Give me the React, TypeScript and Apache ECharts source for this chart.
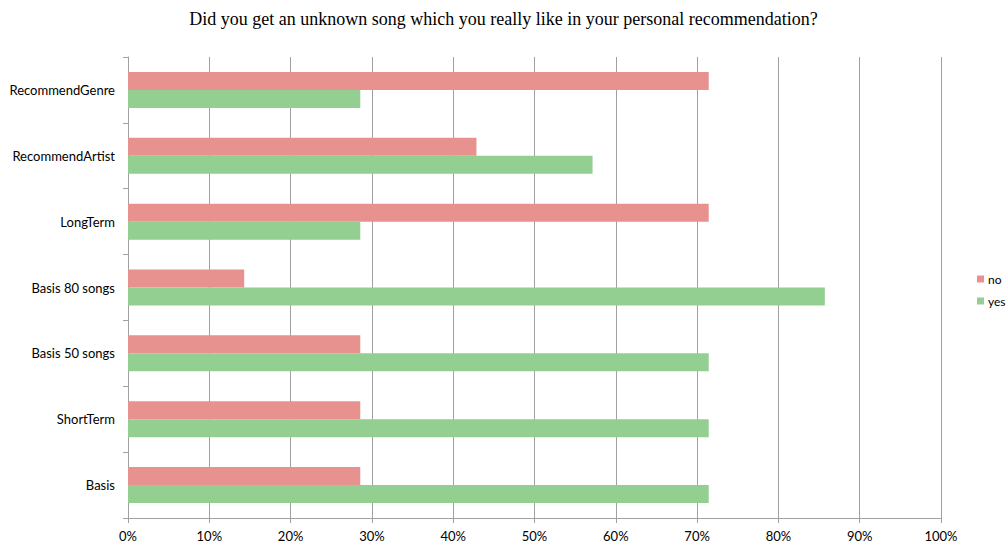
import React, { useEffect, useRef } from "react";
import * as echarts from "echarts";

const categories = ["Basis", "ShortTerm", "Basis 50 songs", "Basis 80 songs", "LongTerm", "RecommendArtist", "RecommendGenre"];
const yesValues = [0.7143, 0.7143, 0.7143, 0.8571, 0.2857, 0.5714, 0.2857];
const noValues = [0.2857, 0.2857, 0.2857, 0.1429, 0.7143, 0.4286, 0.7143];
const titleText = "Did you get an unknown song which you really like in your personal recommendation?";

export default function App() {
  const ref = useRef<HTMLDivElement>(null);
  useEffect(() => {
    if (!ref.current) return;
    const chart = echarts.init(ref.current, null, { renderer: "svg" });
    const labelFont = "Lato, 'Open Sans', sans-serif";
    chart.setOption({
      animation: false,
      backgroundColor: "#ffffff",
      title: {
        text: titleText,
        left: "center",
        top: 5,
        textStyle: { fontFamily: "'Liberation Serif', 'Times New Roman', serif", fontSize: 18, fontWeight: "normal", color: "#000" },
      },
      legend: {
        orient: "vertical",
        left: 972,
        top: 268,
        data: ["no", "yes"],
        itemWidth: 7,
        itemHeight: 7,
        itemGap: 10,
        icon: "rect",
        textStyle: { fontFamily: labelFont, fontSize: 12, color: "#000", padding: [0, 0, 0, -1] },
      },
      grid: { left: 128, right: 66, top: 57, bottom: 27, containLabel: false },
      xAxis: {
        type: "value",
        min: 0,
        max: 1,
        interval: 0.1,
        axisLine: { show: true, lineStyle: { color: "#a0a0a0" } },
        axisTick: { show: true, length: 5, lineStyle: { color: "#a0a0a0" } },
        splitLine: { show: true, lineStyle: { color: "#a0a0a0" } },
        axisLabel: {
          formatter: (v: number) => Math.round(v * 100) + "%",
          fontFamily: labelFont,
          fontSize: 13,
          color: "#000",
          margin: 11,
        },
      },
      yAxis: {
        type: "category",
        data: categories,
        axisLine: { show: true, lineStyle: { color: "#a0a0a0" } },
        axisTick: { show: true, length: 5, lineStyle: { color: "#a0a0a0" } },
        axisLabel: { fontFamily: labelFont, fontSize: 13, color: "#000", margin: 13 },
      },
      series: [
        {
          name: "no",
          type: "bar",
          data: noValues,
          barWidth: 18,
          barGap: "0%",
          itemStyle: { color: "#E8928F" },
        },
        {
          name: "yes",
          type: "bar",
          data: yesValues,
          barWidth: 18,
          barGap: "0%",
          itemStyle: { color: "#92CF91" },
        },
      ],
    });
    return () => chart.dispose();
  }, []);
  return <div ref={ref} style={{ width: 1007, height: 545, position: "absolute", left: 0, top: 0 }} />;
}
